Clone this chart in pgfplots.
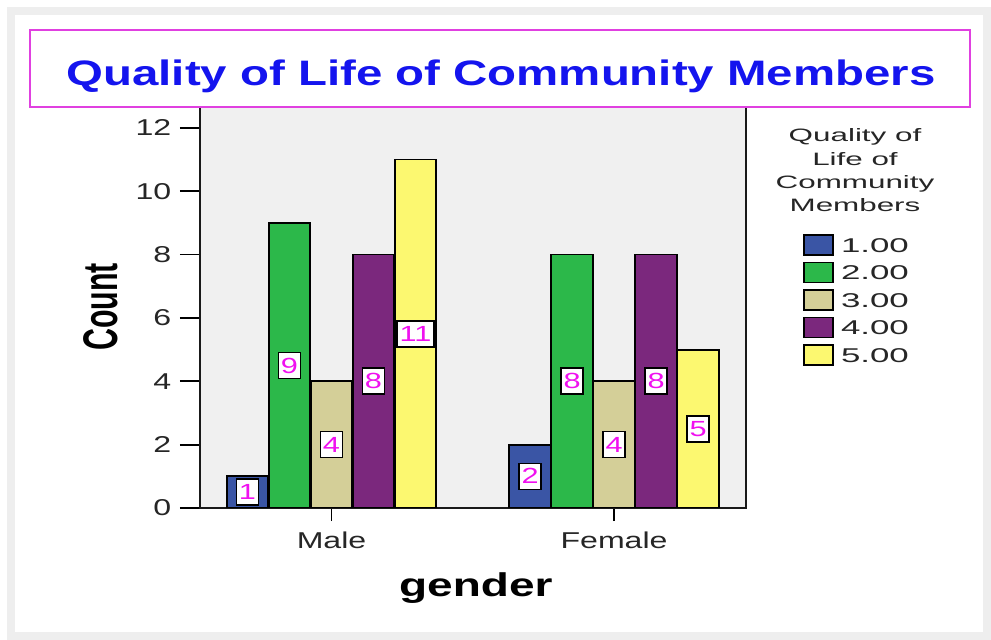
\documentclass[border=0pt]{standalone}
\usepackage{fontspec}
\setmainfont{Liberation Sans}[FakeStretch=1.4]
\newfontfamily\countfont{Liberation Sans}
\newfontfamily\legfont{Liberation Sans}[FakeStretch=1.75]
\newfontfamily\titlefont{Liberation Sans}[FakeStretch=1.34]
\usepackage{pgfplots}
\pgfplotsset{compat=1.18}
\definecolor{cBlue}{HTML}{3A55A5}
\definecolor{cGreen}{HTML}{2CB84A}
\definecolor{cTan}{HTML}{D4CF98}
\definecolor{cPurple}{HTML}{7B287D}
\definecolor{cYellow}{HTML}{FCF870}
\definecolor{plotbg}{HTML}{F0F0F0}
\definecolor{titleblue}{HTML}{1414EE}
\definecolor{boxmag}{HTML}{E040E0}
\definecolor{labmag}{HTML}{F010F0}
\definecolor{framegrey}{HTML}{EEEEEE}
\begin{document}
\begin{tikzpicture}
\path[use as bounding box, fill=white] (0bp,0bp) rectangle (991bp,640bp);
\draw[framegrey, line width=8bp] (11bp,628.5bp) rectangle (986.5bp,3.5bp);
\begin{axis}[
  at={(200bp,132bp)}, anchor=south west,
  scale only axis, width=546bp, height=401bp,
  xmin=-0.4655, xmax=1.467, ymin=0, ymax=12.66,
  axis background/.style={fill=plotbg},
  axis line style={black!90, line width=2.2bp},
  ybar=0.5bp, bar width=41.5bp,
  xtick={0,1}, xticklabels={Male,Female},
  ytick={0,2,4,6,8,10,12},
  tick align=outside, tick pos=left,
  xtick style={black, line width=1.8bp, /pgfplots/major tick length=13bp},
  ytick style={black, line width=1.8bp, /pgfplots/major tick length=20bp},
  tick label style={font=\fontsize{23}{23}\selectfont, text=black!85},
  xticklabel style={yshift=-16bp},
  yticklabel style={xshift=-21bp},
  /pgf/number format/assume math mode=true,
  nodes near coords,
  visualization depends on=y \as \rawy,
  every node near coord/.append style={anchor=center,
    shift={(axis direction cs:0,-\rawy/2)},
    fill=white, draw=black, line width=1.6bp, text=labmag,
    inner xsep=2.5bp, inner ysep=0pt, minimum height=26bp,
    font=\fontsize{22}{22}\selectfont},
  legend image code/.code={\draw[#1] (0bp,-9bp) rectangle (29bp,11bp);},
  legend style={at={(1.1044,0.6833)}, anchor=north west, draw=none, fill=none,
    inner sep=0pt, row sep=5.7bp, font=\legfont\fontsize{20}{20}\selectfont,
    nodes={inner sep=0pt, text=black!85},
    /tikz/every odd column/.append style={column sep=7bp}},
  legend cell align=left,
]
\addplot[fill=cBlue, draw=black, line width=1.8bp] coordinates {(0,1) (1,2)};
\addplot[fill=cGreen, draw=black, line width=1.8bp] coordinates {(0,9) (1,8)};
\addplot[fill=cTan, draw=black, line width=1.8bp] coordinates {(0,4) (1,4)};
\addplot[fill=cPurple, draw=black, line width=1.8bp] coordinates {(0,8) (1,8)};
\addplot[fill=cYellow, draw=black, line width=1.8bp] coordinates {(0,11) (1,5)};
\legend{1.00,2.00,3.00,4.00,5.00}
\end{axis}
\draw[boxmag, line width=2.5bp, fill=white] (30bp,610bp) rectangle (970bp,533bp);
\node[anchor=base, text=titleblue, inner sep=0pt, font=\titlefont\bfseries\fontsize{35.5}{36}\selectfont] at (501bp,554bp) {Quality of Life of Community Members};
\node[anchor=base, inner sep=0pt, font=\bfseries\fontsize{33}{33}\selectfont] at (475.8bp,43bp) {gender};
\node[anchor=base, rotate=90, inner sep=0pt] at (117bp,333bp) {\scalebox{1}[1.6]{\countfont\bfseries\fontsize{30.5}{31}\selectfont Count}};
\begin{scope}[every node/.style={anchor=base, inner sep=0pt, text=black!85, font=\legfont\fontsize{18}{18}\selectfont}]
\node at (855bp,498bp) {Quality of};
\node at (855bp,474bp) {Life of};
\node at (855bp,451bp) {Community};
\node at (855bp,428bp) {Members};
\end{scope}
\end{tikzpicture}
\end{document}
